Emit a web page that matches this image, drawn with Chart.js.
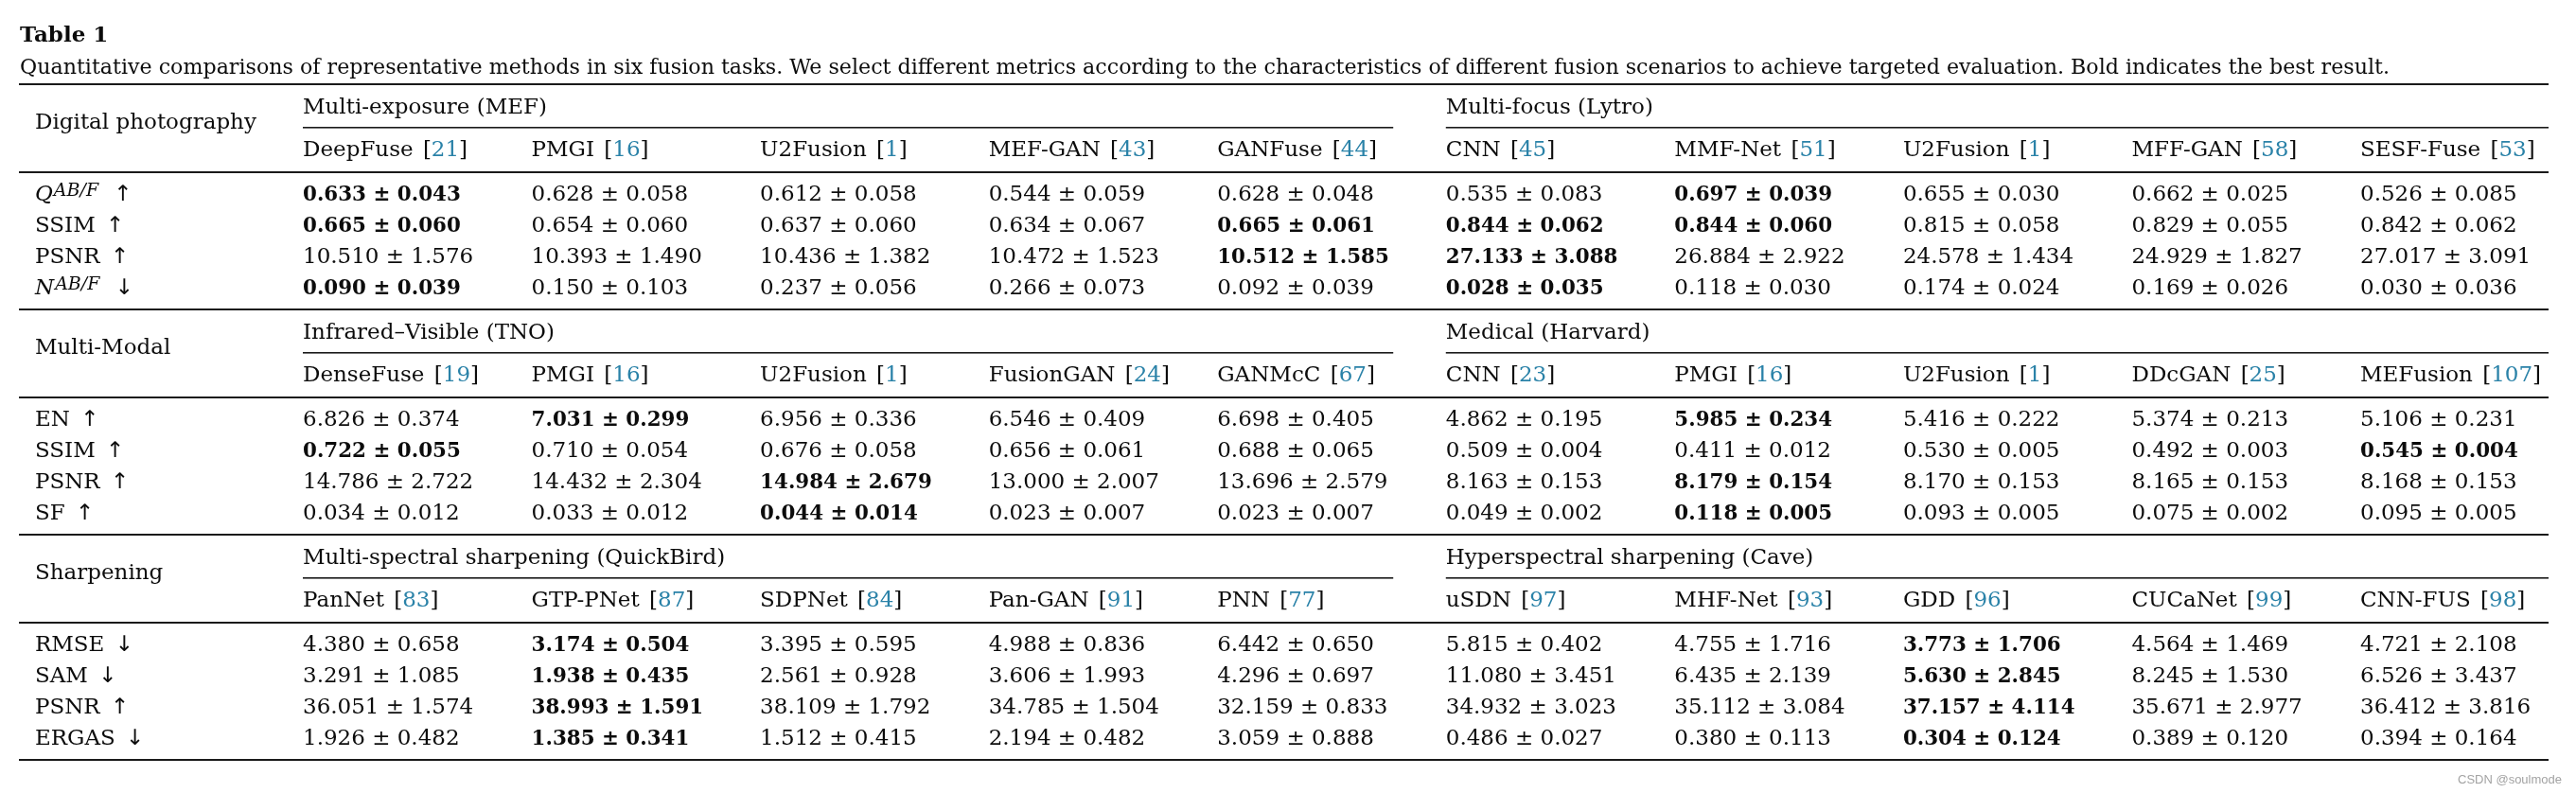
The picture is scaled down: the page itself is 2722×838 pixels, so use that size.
<!DOCTYPE html>
<html>
<head>
<meta charset="utf-8">
<title>Table 1</title>
<script src="https://cdn.jsdelivr.net/npm/chart.js@4.4.1/dist/chart.umd.min.js"></script>
<style>
    html, body { margin: 0; padding: 0; background: #fff; }
    canvas { display: block; }
</style>
</head>
<body>
<canvas id="tableChart" width="2722" height="838"></canvas>
<script>
// Table text
const tableTitle = "Table 1";
const tableCaption = "Quantitative comparisons of representative methods in six fusion tasks. We select different metrics according to the characteristics of different fusion scenarios to achieve targeted evaluation. Bold indicates the best result.";
const watermark = "CSDN @soulmode";

const sectionNames = ["Digital photography", "Multi-Modal", "Sharpening"];
const groupNames = [
    ["Multi-exposure (MEF)", "Multi-focus (Lytro)"],
    ["Infrared\u2013Visible (TNO)", "Medical (Harvard)"],
    ["Multi-spectral sharpening (QuickBird)", "Hyperspectral sharpening (Cave)"]
];
const methodNames = [
    ["DeepFuse", "PMGI", "U2Fusion", "MEF-GAN", "GANFuse", "CNN", "MMF-Net", "U2Fusion", "MFF-GAN", "SESF-Fuse"],
    ["DenseFuse", "PMGI", "U2Fusion", "FusionGAN", "GANMcC", "CNN", "PMGI", "U2Fusion", "DDcGAN", "MEFusion"],
    ["PanNet", "GTP-PNet", "SDPNet", "Pan-GAN", "PNN", "uSDN", "MHF-Net", "GDD", "CUCaNet", "CNN-FUS"]
];
const methodRefs = [
    [21, 16, 1, 43, 44, 45, 51, 1, 58, 53],
    [19, 16, 1, 24, 67, 23, 16, 1, 25, 107],
    [83, 87, 84, 91, 77, 97, 93, 96, 99, 98]
];
const metricNames = [
    ["Q", "SSIM", "PSNR", "N"],
    ["EN", "SSIM", "PSNR", "SF"],
    ["RMSE", "SAM", "PSNR", "ERGAS"]
];
const metricSups = [
    ["AB/F", "", "", "AB/F"],
    ["", "", "", ""],
    ["", "", "", ""]
];
const metricArrows = [
    ["\u2191", "\u2191", "\u2191", "\u2193"],
    ["\u2191", "\u2191", "\u2191", "\u2191"],
    ["\u2193", "\u2193", "\u2191", "\u2193"]
];

// Digital photography (MEF | Lytro)
const photoMean = [
    [0.633, 0.628, 0.612, 0.544, 0.628, 0.535, 0.697, 0.655, 0.662, 0.526],
    [0.665, 0.654, 0.637, 0.634, 0.665, 0.844, 0.844, 0.815, 0.829, 0.842],
    [10.510, 10.393, 10.436, 10.472, 10.512, 27.133, 26.884, 24.578, 24.929, 27.017],
    [0.090, 0.150, 0.237, 0.266, 0.092, 0.028, 0.118, 0.174, 0.169, 0.030]
];
const photoStd = [
    [0.043, 0.058, 0.058, 0.059, 0.048, 0.083, 0.039, 0.030, 0.025, 0.085],
    [0.060, 0.060, 0.060, 0.067, 0.061, 0.062, 0.060, 0.058, 0.055, 0.062],
    [1.576, 1.490, 1.382, 1.523, 1.585, 3.088, 2.922, 1.434, 1.827, 3.091],
    [0.039, 0.103, 0.056, 0.073, 0.039, 0.035, 0.030, 0.024, 0.026, 0.036]
];
// Multi-modal (TNO | Harvard)
const modalMean = [
    [6.826, 7.031, 6.956, 6.546, 6.698, 4.862, 5.985, 5.416, 5.374, 5.106],
    [0.722, 0.710, 0.676, 0.656, 0.688, 0.509, 0.411, 0.530, 0.492, 0.545],
    [14.786, 14.432, 14.984, 13.000, 13.696, 8.163, 8.179, 8.170, 8.165, 8.168],
    [0.034, 0.033, 0.044, 0.023, 0.023, 0.049, 0.118, 0.093, 0.075, 0.095]
];
const modalStd = [
    [0.374, 0.299, 0.336, 0.409, 0.405, 0.195, 0.234, 0.222, 0.213, 0.231],
    [0.055, 0.054, 0.058, 0.061, 0.065, 0.004, 0.012, 0.005, 0.003, 0.004],
    [2.722, 2.304, 2.679, 2.007, 2.579, 0.153, 0.154, 0.153, 0.153, 0.153],
    [0.012, 0.012, 0.014, 0.007, 0.007, 0.002, 0.005, 0.005, 0.002, 0.005]
];
// Sharpening (QuickBird | Cave)
const sharpMean = [
    [4.380, 3.174, 3.395, 4.988, 6.442, 5.815, 4.755, 3.773, 4.564, 4.721],
    [3.291, 1.938, 2.561, 3.606, 4.296, 11.080, 6.435, 5.630, 8.245, 6.526],
    [36.051, 38.993, 38.109, 34.785, 32.159, 34.932, 35.112, 37.157, 35.671, 36.412],
    [1.926, 1.385, 1.512, 2.194, 3.059, 0.486, 0.380, 0.304, 0.389, 0.394]
];
const sharpStd = [
    [0.658, 0.504, 0.595, 0.836, 0.650, 0.402, 1.716, 1.706, 1.469, 2.108],
    [1.085, 0.435, 0.928, 1.993, 0.697, 3.451, 2.139, 2.845, 1.530, 3.437],
    [1.574, 1.591, 1.792, 1.504, 0.833, 3.023, 3.084, 4.114, 2.977, 3.816],
    [0.482, 0.341, 0.415, 0.482, 0.888, 0.027, 0.113, 0.124, 0.120, 0.164]
];
// Columns printed in bold (best result)
const bestCols = [
    [[0, 6], [0, 4, 5, 6], [4, 5], [0, 5]],
    [[1, 6], [0, 9], [2, 6], [2, 6]],
    [[1, 7], [1, 7], [1, 7], [1, 7]]
];

const sectionMeans = [photoMean, modalMean, sharpMean];
const sectionStds = [photoStd, modalStd, sharpStd];

// Layout (row units of 33px)
const LINE = 33;
const SECTION_STRIDE = 238 / LINE;
const OFF = { topRule: -3.48, group: -2.79, label: -2.30, subrule: -2.09, header: -1.42, headRule: -0.67, bottomRule: 3.73 };
const GROUP_SPLIT = 4.77;   // end of the left group's sub rule, in column units
const TABLE_LEFT = 20, TABLE_RIGHT = 2693, LABEL_X = 37;
const FS = 23, SUP_FS = 19, CAP_HALF = 8.4;
const SERIF = "'DejaVu Serif', 'Liberation Serif', serif";
const INK = "#0c0c0c", LINK = "#2a82a8", RULE = "#1a1a1a";

// one point per result cell
const cells = [];
sectionNames.forEach((sec, s) => {
    sectionMeans[s].forEach((row, r) => {
        row.forEach((v, c) => {
            cells.push({
                x: c,
                y: s * SECTION_STRIDE + r,
                text: v.toFixed(3) + " \u00b1 " + sectionStds[s][r][c].toFixed(3),
                bold: bestCols[s][r].includes(c)
            });
        });
    });
});

function rule(ctx, x1, x2, y, t) {
    ctx.fillStyle = RULE;
    ctx.fillRect(x1, Math.round(y - t / 2), x2 - x1, t);
}

function drawHeader(ctx, x, y, name, ref) {
    ctx.font = FS + "px " + SERIF;
    ctx.fillStyle = INK;
    ctx.fillText(name, x, y);
    let w = ctx.measureText(name + " ").width + 3;
    ctx.fillText("[", x + w, y);
    w += ctx.measureText("[").width;
    ctx.fillStyle = LINK;
    ctx.fillText(String(ref), x + w, y);
    w += ctx.measureText(String(ref)).width;
    ctx.fillStyle = INK;
    ctx.fillText("]", x + w, y);
}

function drawMetric(ctx, x, y, name, sup, arrow) {
    let cx = x;
    ctx.fillStyle = INK;
    if (sup) {
        ctx.font = "italic " + FS + "px " + SERIF;
        ctx.fillText(name, cx, y);
        cx += ctx.measureText(name).width + 1;
        ctx.font = "italic " + SUP_FS + "px " + SERIF;
        ctx.fillText(sup, cx, y - 5);
        cx += ctx.measureText(sup).width + 16;
    } else {
        ctx.font = FS + "px " + SERIF;
        ctx.fillText(name, cx, y);
        cx += ctx.measureText(name).width + 11;
    }
    ctx.font = FS + "px 'DejaVu Sans', sans-serif";
    ctx.fillText(arrow, cx, y);
}

const tablePlugin = {
    id: "tableText",
    afterDatasetsDraw(chart) {
        const ctx = chart.ctx;
        const xs = chart.scales.x, ys = chart.scales.y;
        ctx.save();
        ctx.textAlign = "left";
        ctx.textBaseline = "alphabetic";

        // title and caption
        ctx.fillStyle = INK;
        ctx.font = "bold " + FS + "px " + SERIF;
        ctx.fillText(tableTitle, TABLE_LEFT + 1, 44);
        ctx.font = FS + "px " + SERIF;
        const capW = ctx.measureText(tableCaption).width;
        if (capW > 2504) ctx.fillText(tableCaption, TABLE_LEFT + 1, 78, 2504);
        else ctx.fillText(tableCaption, TABLE_LEFT + 1, 78);

        sectionNames.forEach((sec, s) => {
            const py = v => ys.getPixelForValue(s * SECTION_STRIDE + v);
            if (s === 0) rule(ctx, TABLE_LEFT, TABLE_RIGHT, py(OFF.topRule), 2);
            rule(ctx, xs.getPixelForValue(0), xs.getPixelForValue(GROUP_SPLIT), py(OFF.subrule), 1.6);
            rule(ctx, xs.getPixelForValue(5), TABLE_RIGHT, py(OFF.subrule), 1.6);
            rule(ctx, TABLE_LEFT, TABLE_RIGHT, py(OFF.headRule), 2);
            rule(ctx, TABLE_LEFT, TABLE_RIGHT, py(OFF.bottomRule), 2);

            ctx.fillStyle = INK;
            ctx.font = FS + "px " + SERIF;
            ctx.fillText(sec, LABEL_X, py(OFF.label) + CAP_HALF);
            ctx.fillText(groupNames[s][0], xs.getPixelForValue(0), py(OFF.group) + CAP_HALF);
            ctx.fillText(groupNames[s][1], xs.getPixelForValue(5), py(OFF.group) + CAP_HALF);

            methodNames[s].forEach((m, c) => {
                drawHeader(ctx, xs.getPixelForValue(c), py(OFF.header) + CAP_HALF, m, methodRefs[s][c]);
            });
            metricNames[s].forEach((m, r) => {
                drawMetric(ctx, LABEL_X, py(r) + CAP_HALF, m, metricSups[s][r], metricArrows[s][r]);
            });
        });

        // result cells, placed by the chart scales
        const meta = chart.getDatasetMeta(0);
        meta.data.forEach((pt, i) => {
            const cell = chart.data.datasets[0].data[i];
            ctx.fillStyle = INK;
            ctx.font = (cell.bold ? "bold " : "") + FS + "px " + SERIF;
            if (cell.bold) {
                const w = ctx.measureText(cell.text).width;
                ctx.fillText(cell.text, pt.x, pt.y + CAP_HALF, w * 0.93);
            } else {
                ctx.fillText(cell.text, pt.x, pt.y + CAP_HALF);
            }
        });

        // watermark
        ctx.fillStyle = "#a3a3a3";
        ctx.font = "13px 'Liberation Sans', Arial, sans-serif";
        ctx.fillText(watermark, 2597, 828);
        ctx.restore();
    }
};

new Chart(document.getElementById("tableChart").getContext("2d"), {
    type: "scatter",
    data: {
        datasets: [{
            label: "results",
            data: cells,
            pointRadius: 0,
            pointHoverRadius: 0,
            showLine: false
        }]
    },
    options: {
        responsive: false,
        animation: false,
        devicePixelRatio: 1,
        events: [],
        layout: { padding: { left: 320, right: 228, top: 0, bottom: 0 } },
        plugins: { legend: { display: false }, tooltip: { enabled: false } },
        scales: {
            x: { type: "linear", display: false, min: 0, max: 9 },
            y: { type: "linear", display: false, reverse: true, min: -6.18, max: -6.18 + 838 / LINE }
        }
    },
    plugins: [tablePlugin]
});
</script>
</body>
</html>
